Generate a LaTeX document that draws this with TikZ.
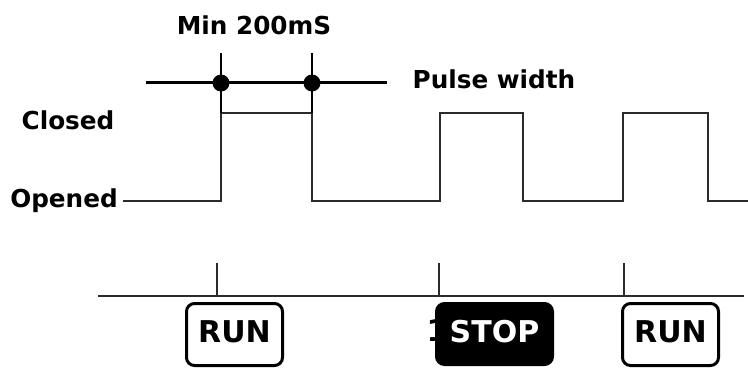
\documentclass[tikz,border=0pt]{standalone}
\usepackage{fontspec}
\setmainfont{DejaVu Sans}
\usepackage{xcolor}
\usetikzlibrary{positioning, calc}
\definecolor{sigGray}{HTML}{2B2B2B}

\tikzset{
  lbl/.style={font=\bfseries\fontsize{24.7}{26}\selectfont, inner sep=0pt, anchor=base},
  sig/.style={draw=sigGray, line width=1.6pt},
  mark line/.style={draw=black, line width=3pt},
  btn/.style={draw=black, line width=3pt, rounded corners=8pt, minimum width=96pt,
    minimum height=62pt, inner sep=0pt, text height=22pt, text depth=6pt,
    font=\bfseries\fontsize{30}{32}\selectfont},
}

\begin{document}
\begin{tikzpicture}[x=1pt, y=-1pt]
  \useasboundingbox (0,0) rectangle (748,369);

  % labels
  \node[lbl] (minlbl) at (254,35) {Min 200mS};
  \node[lbl] (pulselbl) at (494,89) {Pulse width};
  \node[lbl] (closedlbl) at (68,129) {Closed};
  \node[lbl] (openedlbl) at (64,207) {Opened};

  % signal
  \coordinate (s0) at (123,201);
  \draw[sig] (s0) -- (221,201) -- (221,113) -- (312,113) -- (312,201)
    -- (440,201) -- (440,113) -- (523,113) -- (523,201)
    -- (623,201) -- (623,113) -- (708,113) -- (708,201) -- (748,201);

  % pulse width marker
  \coordinate (pwl) at (146,83);
  \coordinate (pwr) at (387,83);
  \draw[mark line] (pwl) -- (pwr);
  \draw[draw=black, line width=2pt] (221,53) -- (221,113);
  \draw[draw=black, line width=2pt] (312,53) -- (312,113);
  \fill (221,83) circle (8.5pt);
  \fill (312,83) circle (8.5pt);

  % time axis
  \coordinate (axl) at (98,296);
  \coordinate (axr) at (744,296);
  \draw[sig] (axl) -- (axr);
  \foreach \tx in {217,439,624}
    \draw[sig] (\tx,263) -- (\tx,296);

  % buttons
  \node[lbl, font=\bfseries\fontsize{30}{32}\selectfont] (one) at (437,341) {1};
  \node[btn] (run1) at (234.5,334.5) {RUN};
  \node[btn, fill=black, text=white, minimum width=116pt, minimum height=61pt] (stop) at (494.5,334) {STOP};
  \node[btn] (run2) at (670.5,334.5) {RUN};
\end{tikzpicture}
\end{document}
